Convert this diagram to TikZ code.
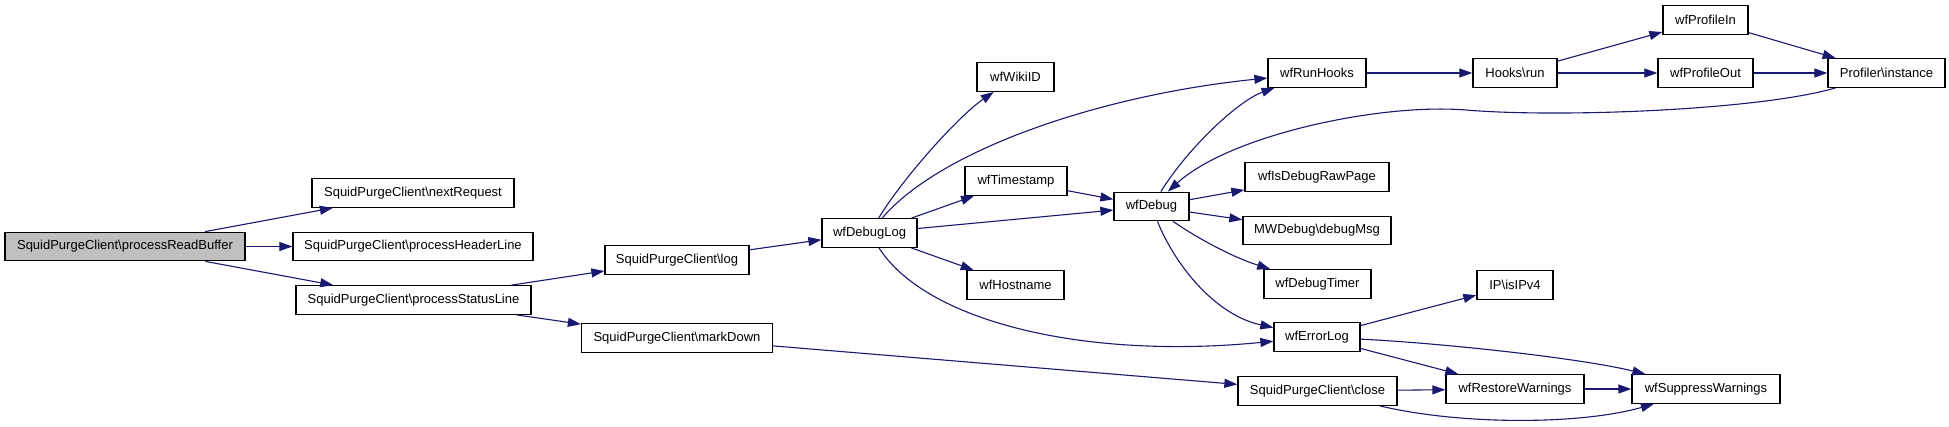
\documentclass[tikz,border=0pt]{standalone}
\usepackage{fontspec}
\setmainfont{Liberation Sans}
\usetikzlibrary{arrows.meta}
\definecolor{navy}{HTML}{191970}
\definecolor{selgray}{HTML}{BFBFBF}
\tikzset{
  box/.style={draw=black, line width=1.3pt, fill=white, inner sep=0pt,
    minimum height=28.5pt, font=\fontsize{13}{15}\selectfont},
  edge/.style={draw=navy, line width=1.1pt, -{Triangle[length=13pt,width=9pt]}}
}
\newcommand{\bs}{\textbackslash}
\begin{document}
\begin{tikzpicture}[x=1pt,y=-1pt]
\fill[white] (0,0) rectangle (1949,426);
\useasboundingbox (0,0) rectangle (1949,426);
% nodes
\node[box, fill=selgray, minimum width=240pt] (prb) at (125,246.5) {SquidPurgeClient\bs processReadBuffer};
\node[box, minimum width=202pt] (nreq) at (413,193) {SquidPurgeClient\bs nextRequest};
\node[box, minimum width=240pt] (phl) at (413,246.5) {SquidPurgeClient\bs processHeaderLine};
\node[box, minimum width=235pt] (psl) at (413.5,300) {SquidPurgeClient\bs processStatusLine};
\node[box, minimum width=144pt] (log) at (677,260) {SquidPurgeClient\bs log};
\node[box, minimum width=191pt] (mdown) at (677,338) {SquidPurgeClient\bs markDown};
\node[box, minimum width=95pt] (dlog) at (869.5,233) {wfDebugLog};
\node[box, minimum width=77pt] (wiki) at (1015.5,77) {wfWikiID};
\node[box, minimum width=102pt] (tstamp) at (1016,181) {wfTimestamp};
\node[box, minimum width=97pt] (host) at (1015.5,285) {wfHostname};
\node[box, minimum width=75pt] (dbg) at (1151.5,206.5) {wfDebug};
\node[box, minimum width=98pt] (hooks) at (1317,73) {wfRunHooks};
\node[box, minimum width=144pt] (raw) at (1317,177) {wfIsDebugRawPage};
\node[box, minimum width=148pt] (mwd) at (1317,230.5) {MWDebug\bs debugMsg};
\node[box, minimum width=107pt] (timer) at (1317.5,284) {wfDebugTimer};
\node[box, minimum width=86pt] (elog) at (1317,337) {wfErrorLog};
\node[box, minimum width=159pt] (close) at (1317.5,391) {SquidPurgeClient\bs close};
\node[box, minimum width=84pt] (hrun) at (1515,73) {Hooks\bs run};
\node[box, minimum width=76pt] (ipv4) at (1515,285) {IP\bs isIPv4};
\node[box, minimum width=138pt] (restore) at (1515,389) {wfRestoreWarnings};
\node[box, minimum width=85pt] (pin) at (1705.5,20) {wfProfileIn};
\node[box, minimum width=95pt] (pout) at (1705.5,73) {wfProfileOut};
\node[box, minimum width=148pt] (suppress) at (1706,389) {wfSuppressWarnings};
\node[box, minimum width=117pt] (prof) at (1886.5,73) {Profiler\bs instance};
% edges
\draw[edge] (prb) -- (nreq);
\draw[edge] (prb) -- (phl);
\draw[edge] (prb) -- (psl);
\draw[edge] (psl) -- (log);
\draw[edge] (psl) -- (mdown);
\draw[edge] (log) -- (dlog);
\draw[edge] (mdown) -- (close);
\draw[edge] (dlog) .. controls (905,175) and (960,115) .. (wiki);
\draw[edge] (dlog) .. controls (940,150) and (1100,95) .. (hooks);
\draw[edge] (dlog) -- (tstamp);
\draw[edge] (dlog) -- (dbg);
\draw[edge] (dlog) -- (host);
\draw[edge] (dlog) .. controls (925,320) and (1080,360) .. (elog);
\draw[edge] (tstamp) -- (dbg);
\draw[edge] (dbg) .. controls (1190,145) and (1240,100) .. (hooks);
\draw[edge] (prof) .. controls (1760,110) and (1560,118) .. (1466,110)
  .. controls (1380,103) and (1230,135) .. (dbg);
\draw[edge] (dbg) -- (raw);
\draw[edge] (dbg) -- (mwd);
\draw[edge] (dbg) .. controls (1200,240) and (1235,258) .. (timer);
\draw[edge] (dbg) .. controls (1175,265) and (1215,315) .. (elog);
\draw[edge] (hooks) -- (hrun);
\draw[edge] (hrun) -- (pin);
\draw[edge] (hrun) -- (pout);
\draw[edge] (pin) -- (prof);
\draw[edge] (pout) -- (prof);
\draw[edge] (elog) -- (ipv4);
\draw[edge] (elog) -- (restore);
\draw[edge] (elog) .. controls (1440,343) and (1580,358) .. (suppress);
\draw[edge] (close) -- (restore);
\draw[edge] (close) .. controls (1460,425) and (1580,425) .. (suppress);
\draw[edge] (restore) -- (suppress);
\end{tikzpicture}
\end{document}
